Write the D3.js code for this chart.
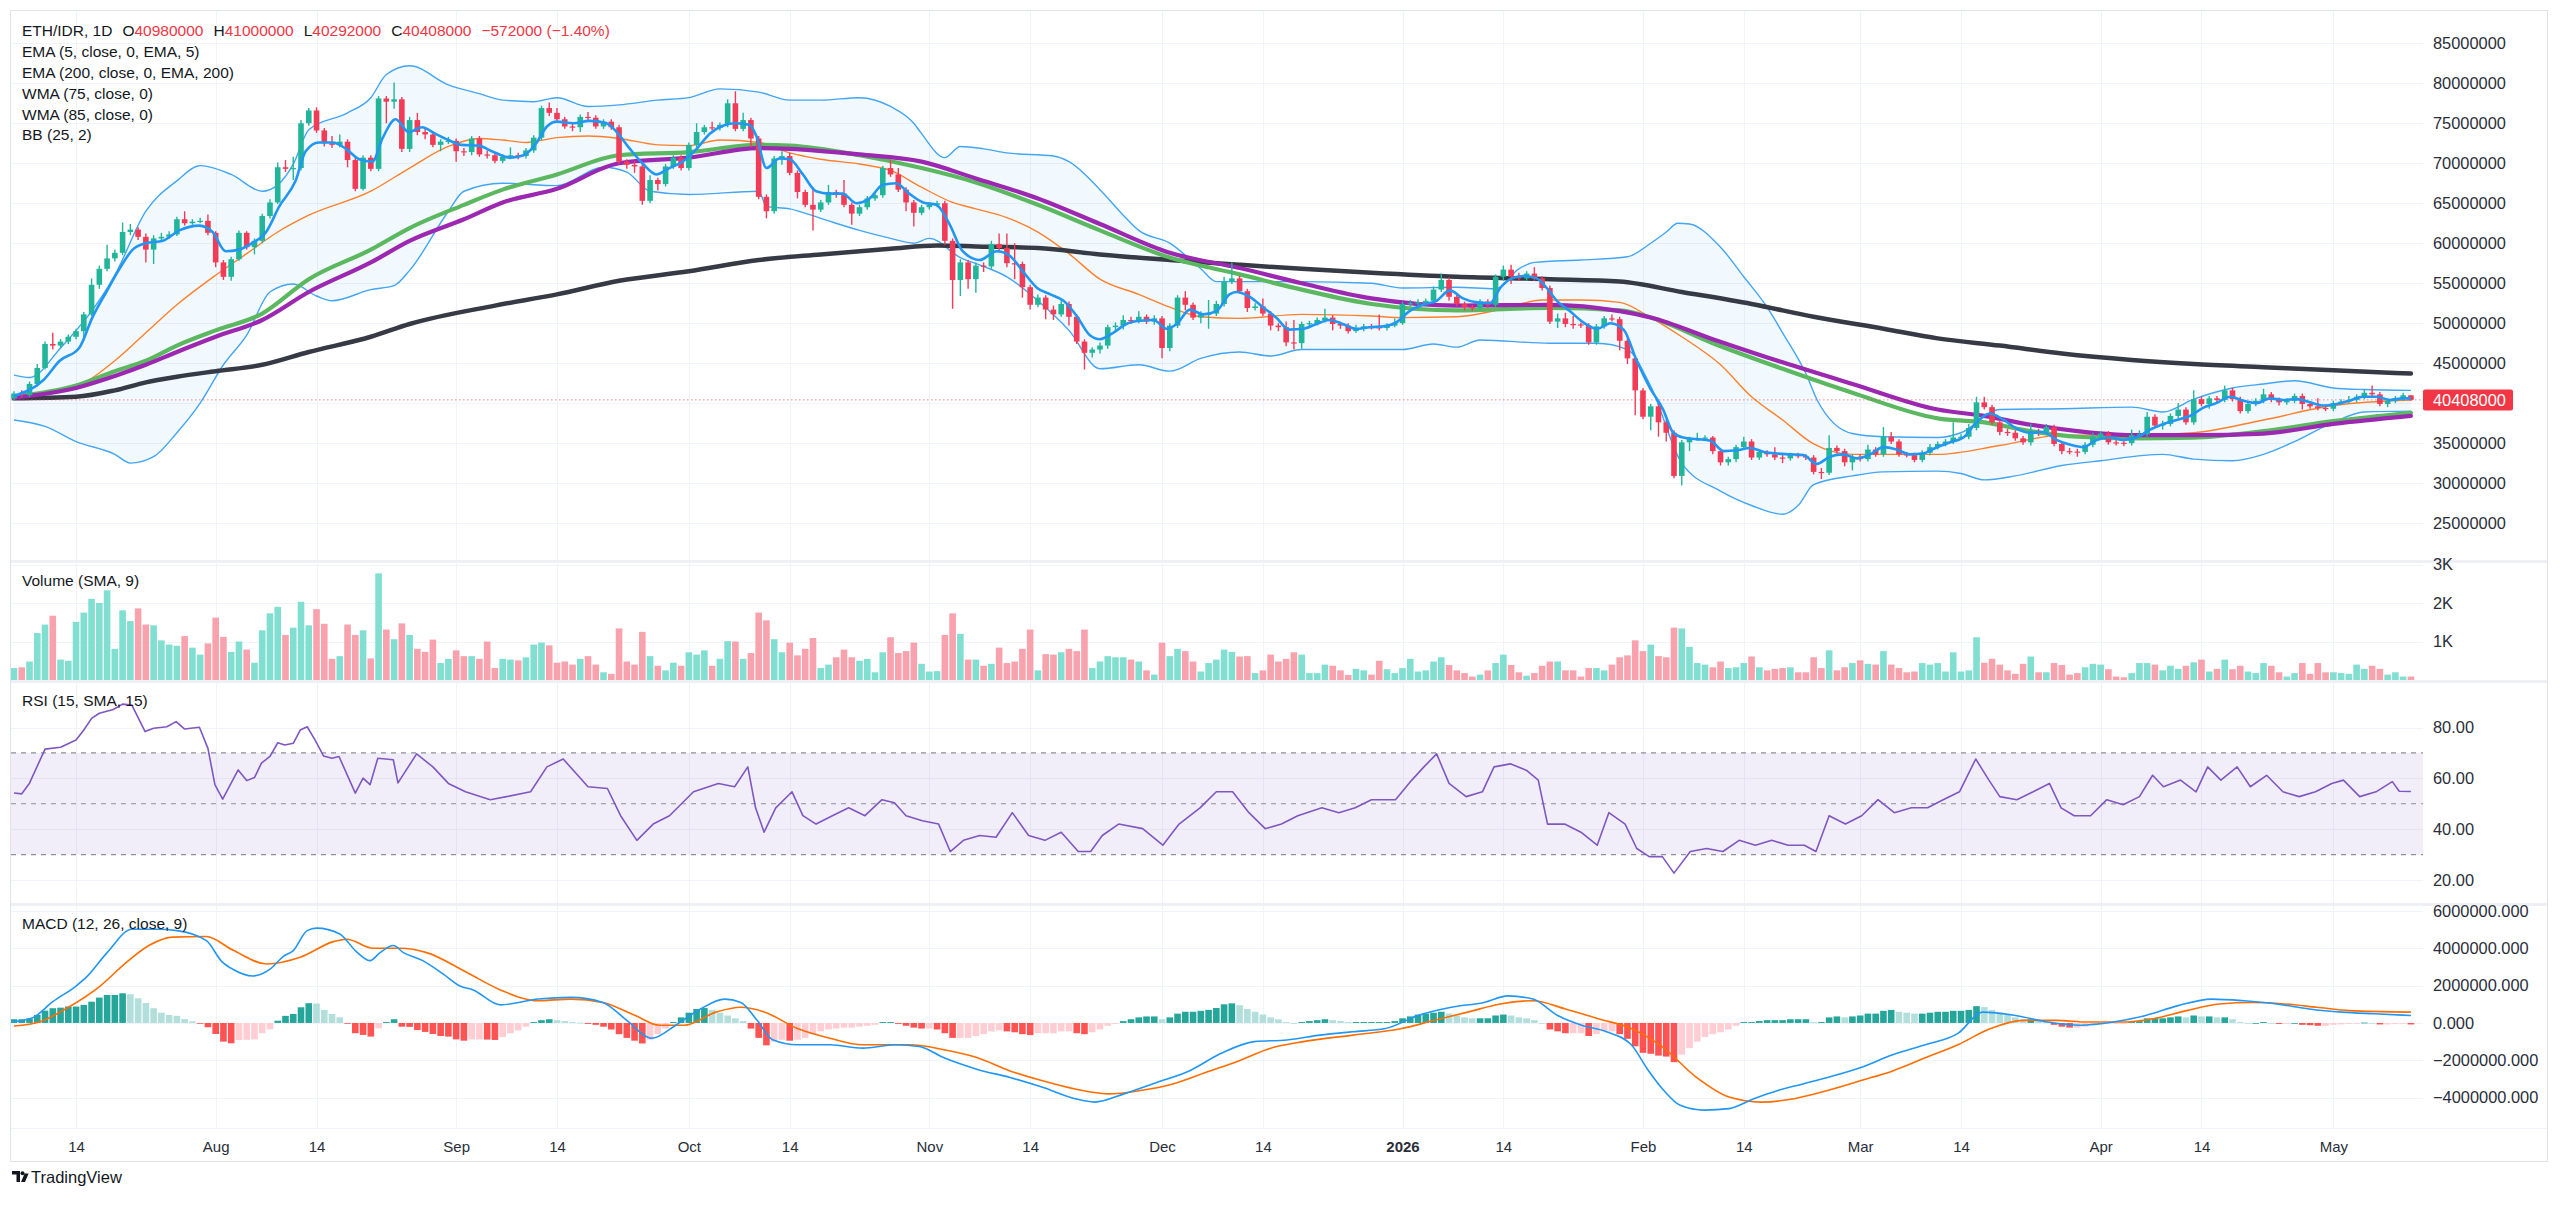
<!DOCTYPE html>
<html><head><meta charset="utf-8">
<script src="https://cdn.jsdelivr.net/npm/d3@7"></script>
<style>
html,body{margin:0;padding:0;background:#fff;}
svg{display:block;}
text{font-family:"Liberation Sans",Arial,sans-serif;}
</style></head><body>
<svg id="c" width="2560" height="1205"></svg>
<script>
// ===== DATA (prices in millions of IDR, volume in thousands, MACD in millions) =====
const startDate = "2025-07-06";
const opens = [40.6,41.2,41.0,42.4,44.4,47.4,47.2,47.7,48.3,49.0,
51.1,54.8,56.8,58.1,58.8,61.4,61.7,60.8,59.2,60.6,
60.8,61.1,63.0,62.5,62.7,62.8,61.3,57.6,55.8,58.0,
61.3,59.5,60.3,63.4,65.1,69.5,69.3,69.4,75.0,76.6,
74.1,72.5,72.3,72.7,70.4,66.8,70.7,69.3,78.1,77.7,
78.0,71.8,75.4,73.9,73.6,72.3,72.7,72.8,71.5,71.4,
73.1,71.1,71.0,70.3,70.8,71.0,70.9,71.6,73.2,76.9,
76.3,75.5,74.6,74.5,75.8,75.7,74.6,75.2,74.5,70.2,
69.8,69.6,65.3,67.9,67.4,69.6,70.7,69.4,72.3,73.9,
74.5,74.4,74.8,77.5,74.3,75.4,73.1,65.8,64.0,70.6,
70.9,68.8,66.4,64.8,64.2,65.1,66.4,66.2,64.8,63.7,
64.5,65.6,66.0,69.4,68.6,66.7,65.1,63.8,64.5,64.8,
65.0,60.3,55.4,57.6,55.5,57.2,57.1,59.9,59.4,57.5,
57.4,54.5,52.3,53.2,51.7,51.1,52.4,50.8,47.7,46.3,
46.7,47.2,49.5,49.7,50.4,50.3,50.8,50.2,50.6,46.9,
49.7,53.2,52.3,50.7,51.1,51.2,52.4,55.2,55.6,54.0,
51.9,52.1,51.2,49.7,49.5,47.6,47.5,49.9,50.0,50.4,
50.7,49.9,49.7,49.0,49.3,49.6,49.5,49.4,49.7,50.0,
52.4,52.5,52.6,52.8,54.2,55.4,53.3,52.4,52.0,51.9,
52.7,52.3,55.8,56.7,55.8,55.6,56.2,55.6,54.4,50.2,
50.6,49.9,49.85,49.7,47.6,49.6,50.6,50.5,47.8,45.6,
41.6,38.3,39.6,37.6,36.3,30.9,35.1,35.5,35.6,35.7,
34.0,32.6,33.0,34.5,35.2,33.2,33.9,33.6,33.2,33.1,
33.5,33.4,33.2,31.4,31.3,34.4,34.0,32.6,33.3,33.0,
34.2,33.6,35.8,35.2,33.6,33.5,32.9,33.8,34.5,34.9,
35.2,35.7,35.8,36.9,40.1,39.5,37.6,36.4,36.3,35.6,
35.1,36.5,36.4,37.0,34.9,34.0,33.95,33.9,34.8,35.8,
36.2,35.1,35.05,35.0,36.0,36.1,38.3,37.2,37.4,38.4,
39.2,37.6,40.5,39.9,40.6,40.4,41.6,40.5,39.0,39.9,
40.3,41.1,40.4,40.1,40.3,40.9,39.9,39.6,39.4,39.3,
40.0,40.2,40.4,40.8,41.3,41.1,39.9,40.3,40.6,40.98];
const closes = [41.2,41.0,42.4,44.4,47.4,47.2,47.7,48.3,49.0,51.1,
54.8,56.8,58.1,58.8,61.4,61.7,60.8,59.2,60.6,60.8,
61.1,63.0,62.5,62.7,62.8,61.3,57.6,55.8,58.0,61.3,
59.5,60.3,63.4,65.1,69.5,69.3,69.4,75.0,76.6,74.1,
72.5,72.3,72.7,70.4,66.8,70.7,69.3,78.1,77.7,78.0,
71.8,75.4,73.9,73.6,72.3,72.7,72.8,71.5,71.4,73.1,
71.1,71.0,70.3,70.8,71.0,70.9,71.6,73.2,76.9,76.3,
75.5,74.6,74.5,75.8,75.7,74.6,75.2,74.5,70.2,69.8,
69.6,65.3,67.9,67.4,69.6,70.7,69.4,72.3,73.9,74.5,
74.4,74.8,77.5,74.3,75.4,73.1,65.8,64.0,70.6,70.9,
68.8,66.4,64.8,64.2,65.1,66.4,66.2,64.8,63.7,64.5,
65.6,66.0,69.4,68.6,66.7,65.1,63.8,64.5,64.8,65.0,
60.3,55.4,57.6,55.5,57.2,57.1,59.9,59.4,57.5,57.4,
54.5,52.3,53.2,51.7,51.1,52.4,50.8,47.7,46.3,46.7,
47.2,49.5,49.7,50.4,50.3,50.8,50.2,50.6,46.9,49.7,
53.2,52.3,50.7,51.1,51.2,52.4,55.2,55.6,54.0,51.9,
52.1,51.2,49.7,49.5,47.6,47.5,49.9,50.0,50.4,50.7,
49.9,49.7,49.0,49.3,49.6,49.5,49.4,49.7,50.0,52.4,
52.5,52.6,52.8,54.2,55.4,53.3,52.4,52.0,51.9,52.7,
52.3,55.8,56.7,55.8,55.6,56.2,55.6,54.4,50.2,50.6,
49.9,49.85,49.7,47.6,49.6,50.6,50.5,47.8,45.6,41.6,
38.3,39.6,37.6,36.3,30.9,35.1,35.5,35.6,35.7,34.0,
32.6,33.0,34.5,35.2,33.2,33.9,33.6,33.2,33.1,33.5,
33.4,33.2,31.4,31.3,34.4,34.0,32.6,33.3,33.0,34.2,
33.6,35.8,35.2,33.6,33.5,32.9,33.8,34.5,34.9,35.2,
35.7,35.8,36.9,40.1,39.5,37.6,36.4,36.3,35.6,35.1,
36.5,36.4,37.0,34.9,34.0,33.95,33.9,34.8,35.8,36.2,
35.1,35.05,35.0,36.0,36.1,38.3,37.2,37.4,38.4,39.2,
37.6,40.5,39.9,40.6,40.4,41.6,40.5,39.0,39.9,40.3,
41.1,40.4,40.1,40.3,40.9,39.9,39.6,39.4,39.3,40.0,
40.2,40.4,40.8,41.3,41.1,39.9,40.3,40.6,40.98,40.408];
const highs = [41.5,41.6,42.7,44.9,47.7,48.8,48.0,48.6,49.3,51.4,
55.6,57.2,59.8,59.2,62.6,62.4,62.0,61.2,61.0,61.3,
61.5,63.3,64.0,63.0,63.2,63.6,61.5,57.9,58.3,61.6,
61.5,60.6,63.7,65.5,70.1,70.4,70.8,75.4,76.9,77.0,
74.4,73.4,73.6,73.0,70.7,71.0,71.0,78.4,78.4,80.1,
78.3,75.8,76.3,74.3,74.0,73.0,73.3,73.1,71.9,73.4,
73.4,71.6,71.3,71.1,72.0,71.3,71.9,73.5,77.2,77.6,
76.9,75.8,74.9,76.1,76.4,76.0,75.5,75.5,74.8,70.5,
70.3,69.9,68.5,68.2,69.9,71.0,71.0,72.6,75.0,74.8,
75.2,75.1,78.0,79.0,76.3,75.7,73.4,66.1,70.9,71.5,
71.3,69.1,66.7,67.0,65.4,67.3,66.7,67.9,65.1,64.8,
65.9,66.4,69.7,70.4,69.4,67.0,65.4,64.8,65.1,65.3,
65.3,60.6,58.0,57.9,57.6,57.6,60.3,61.2,61.2,60.0,
57.7,54.8,53.6,53.5,52.2,52.9,52.7,51.1,48.0,47.0,
47.6,49.8,50.1,51.0,50.8,51.5,51.1,51.0,50.9,50.0,
53.5,54.0,52.6,51.5,52.9,52.8,55.8,57.6,55.9,54.3,
52.5,53.1,51.5,50.0,50.2,50.4,50.2,50.3,50.7,51.8,
51.0,50.2,50.0,49.8,49.9,49.9,51.1,50.0,50.6,52.7,
52.9,53.0,53.1,54.6,56.2,55.7,53.6,52.7,52.3,53.0,
53.0,56.1,57.2,57.3,56.3,56.5,57.0,55.9,54.7,51.2,
51.3,50.9,50.1,50.0,49.9,50.9,51.1,50.8,48.1,45.9,
41.9,39.9,39.9,37.9,36.6,35.4,35.8,36.3,36.0,35.9,
34.3,33.3,34.8,35.8,35.5,34.2,34.1,34.5,33.5,33.8,
33.8,33.6,33.5,31.9,36.0,34.7,34.3,33.6,33.6,34.8,
34.5,37.0,36.4,35.5,33.9,33.8,34.1,34.9,35.2,35.5,
37.6,36.1,37.4,40.8,40.8,39.8,37.9,36.8,36.6,35.9,
37.4,36.8,37.4,37.3,35.2,34.4,34.3,35.1,36.3,36.5,
36.5,35.4,35.4,36.7,36.6,38.9,38.6,37.8,38.7,40.0,
39.5,41.6,40.8,40.9,40.9,42.2,41.9,40.8,40.2,40.6,
41.8,41.4,40.7,40.6,41.2,41.2,40.2,40.6,39.8,40.3,
40.5,40.9,41.1,41.7,42.2,41.4,40.6,40.9,41.3,41.0];
const lows = [40.3,40.7,40.8,42.1,44.2,46.7,46.9,47.4,48.0,47.8,
50.9,54.3,56.5,57.7,58.5,61.0,60.4,57.6,57.4,60.2,
60.6,60.9,62.2,62.3,62.5,61.0,57.0,55.4,55.3,57.8,
59.2,58.6,60.0,63.1,64.9,68.9,67.9,69.1,74.7,73.8,
72.1,71.9,72.0,69.5,66.5,66.6,69.0,69.0,75.0,76.8,
71.4,71.4,73.5,73.0,72.0,71.5,72.4,70.2,70.9,71.0,
70.8,70.6,70.0,70.0,70.5,70.5,70.6,71.3,72.9,75.9,
75.2,74.3,74.0,73.9,75.2,74.3,74.3,74.2,69.9,69.3,
68.8,64.8,65.0,66.6,67.1,69.3,69.1,69.1,72.0,73.6,
74.1,74.1,74.5,74.0,74.0,72.0,65.5,63.1,63.7,69.8,
68.5,65.6,64.5,61.6,63.9,64.8,65.7,64.5,62.3,63.4,
64.2,65.3,65.7,68.3,66.4,64.0,62.1,63.5,64.2,64.5,
59.8,51.8,53.4,54.3,53.8,56.4,56.8,59.0,57.0,55.5,
53.2,51.7,52.0,50.5,50.4,50.8,49.7,47.4,44.2,45.7,
46.2,46.8,49.0,49.2,49.9,50.0,49.9,49.8,45.6,46.5,
49.4,51.6,50.4,50.0,49.3,50.9,52.1,54.9,53.7,51.4,
51.6,50.9,49.1,49.0,47.1,46.7,46.8,49.6,49.7,50.1,
49.1,49.3,48.7,48.8,49.0,49.2,49.1,49.1,49.5,49.8,
52.1,52.1,52.2,52.5,53.9,52.8,52.1,51.6,51.5,51.6,
51.9,52.0,55.3,54.9,55.3,55.3,55.3,54.1,49.9,49.4,
49.5,49.3,49.4,47.3,47.3,49.3,50.2,46.6,44.9,38.5,
38.0,36.6,35.8,35.2,30.6,29.7,34.0,35.3,35.3,33.6,
32.2,32.2,32.6,34.2,32.9,32.9,33.3,32.9,32.5,32.8,
33.1,32.9,31.1,30.5,31.0,33.7,32.1,31.6,32.7,32.7,
33.3,33.3,34.9,33.3,33.2,32.6,32.6,33.5,34.2,34.6,
34.9,35.4,35.5,36.6,39.2,37.3,36.0,35.9,35.3,34.8,
34.7,35.9,36.1,34.6,33.6,33.6,33.3,33.6,34.5,35.5,
34.8,34.7,34.6,34.7,35.7,35.8,36.9,36.7,37.1,38.1,
37.3,37.3,39.6,39.3,40.1,40.1,40.2,38.7,38.7,39.6,
40.0,40.1,39.7,39.8,40.0,39.2,39.3,39.1,39.0,39.0,
39.8,40.0,40.1,40.5,40.8,39.6,39.5,40.0,40.3,40.292];
const volumes = [0.31,0.33,0.48,1.22,1.44,1.67,0.53,0.5,1.51,1.75,
2.11,2.0,2.33,0.81,1.81,1.53,1.86,1.44,1.42,1.03,
0.92,0.89,1.14,0.84,0.66,0.95,1.62,1.12,0.73,1.0,
0.79,0.45,1.29,1.73,1.9,1.17,1.36,2.03,1.42,1.84,
1.46,0.55,0.62,1.44,1.17,1.29,0.56,2.77,1.31,1.06,
1.47,1.17,0.81,0.73,1.05,0.44,0.55,0.77,0.62,0.62,
0.55,1.0,0.31,0.55,0.53,0.51,0.59,0.92,0.97,0.9,
0.45,0.48,0.4,0.55,0.62,0.4,0.2,0.16,1.34,0.48,
0.4,1.25,0.62,0.37,0.25,0.45,0.37,0.72,0.66,0.77,
0.37,0.55,1.01,1.0,0.55,0.7,1.75,1.55,1.06,0.72,
0.97,0.64,0.81,1.09,0.31,0.4,0.59,0.79,0.59,0.5,
0.55,0.2,0.72,1.11,0.7,0.75,0.97,0.42,0.22,0.23,
1.17,1.73,1.2,0.53,0.53,0.37,0.42,0.84,0.44,0.48,
0.81,1.31,0.25,0.67,0.66,0.72,0.81,0.75,1.31,0.31,
0.48,0.62,0.59,0.59,0.53,0.48,0.25,0.14,0.97,0.62,
0.81,0.75,0.48,0.22,0.44,0.53,0.79,0.73,0.61,0.62,
0.18,0.25,0.66,0.48,0.55,0.72,0.66,0.18,0.18,0.4,
0.37,0.25,0.13,0.29,0.25,0.14,0.5,0.28,0.18,0.31,
0.55,0.22,0.25,0.48,0.59,0.39,0.25,0.18,0.09,0.14,
0.25,0.44,0.66,0.39,0.2,0.11,0.18,0.37,0.48,0.48,
0.25,0.25,0.09,0.31,0.31,0.25,0.4,0.59,0.64,1.03,
0.75,0.92,0.62,0.59,1.36,1.34,0.86,0.44,0.4,0.33,
0.48,0.31,0.33,0.44,0.61,0.33,0.25,0.29,0.31,0.33,
0.2,0.2,0.59,0.31,0.77,0.25,0.33,0.44,0.51,0.42,
0.4,0.75,0.4,0.31,0.2,0.22,0.44,0.4,0.44,0.22,
0.72,0.22,0.25,1.11,0.45,0.55,0.4,0.25,0.16,0.42,
0.61,0.2,0.2,0.44,0.39,0.14,0.18,0.33,0.42,0.4,
0.28,0.09,0.07,0.18,0.44,0.44,0.4,0.25,0.37,0.29,
0.37,0.46,0.53,0.22,0.29,0.53,0.28,0.37,0.22,0.18,
0.44,0.37,0.2,0.09,0.18,0.44,0.16,0.44,0.2,0.2,
0.18,0.16,0.4,0.29,0.37,0.29,0.14,0.2,0.09,0.09];

// indicator lines: [bar index, value]
const ema5 = [[0,40.9],[3.8,42.9],[5.9,45.3],[8.4,46.9],[10.1,50.7],[11.9,53.9],[13.6,56.8],[15.3,59.2],[17,60.0],[19.2,60.3],[21.3,61.6],[23.9,62.2],[25.6,61.4],[27.3,59.0],[29,59.2],[30.7,60.0],[32.5,61.4],[34.2,64.6],[36.3,67.8],[37.6,71.5],[39.3,72.6],[41.1,72.6],[42.8,71.8],[44.5,70.5],[46.2,70.2],[47.5,73.1],[49.2,75.5],[50.9,73.9],[52.6,74.5],[54.3,73.7],[56,72.9],[57.7,72.3],[59.9,72.2],[61.6,71.5],[64,70.7],[65.7,71.0],[67.4,72.6],[68.7,74.6],[70,75.2],[72.1,75.0],[74.2,75.3],[76.4,75.0],[77.7,73.9],[79.4,71.8],[81.1,69.9],[82.8,68.6],[84.5,69.4],[86.2,70.2],[88,71.8],[89.7,73.7],[91.4,74.7],[93.1,75.0],[94.8,74.8],[95.7,73.4],[97,69.4],[98.7,70.6],[100,70.5],[101.7,68.6],[103.4,66.5],[105.1,66.2],[106.8,66.2],[108.6,65.0],[110.3,65.6],[112,67.3],[113.7,67.5],[115.4,66.2],[117.2,65.1],[118.9,64.8],[120.6,62.4],[122.3,59.0],[124.5,57.9],[126.7,59.0],[128.4,58.4],[130.2,56.3],[131.9,54.4],[133.6,53.6],[135.3,52.8],[137,50.9],[138.7,48.5],[140,48.0],[141.7,48.8],[143.4,49.9],[145.2,50.3],[146.9,50.4],[148.6,49.3],[149.9,49.9],[151.6,51.7],[153.3,51.1],[155,51.5],[156.7,53.6],[157.6,53.9],[159.3,53.3],[161,52.0],[162.7,50.7],[164.4,49.2],[166.2,49.3],[167.9,49.9],[169.6,50.4],[171.3,49.9],[173,49.3],[174.8,49.5],[176.5,49.6],[178.2,50.1],[179.9,51.5],[181.6,52.3],[183.4,52.8],[185.1,54.1],[186.8,53.1],[188.6,52.6],[190.3,52.5],[191.6,54.4],[192.9,55.5],[194.6,55.9],[196.3,55.6],[197.6,54.4],[198.9,52.8],[200.6,51.5],[202.3,50.1],[204.1,49.3],[205.8,50.0],[207.5,49.2],[209.2,45.3],[210.9,41.9],[212.6,39.2],[213.9,36.3],[215.2,35.7],[216.9,35.5],[218.7,35.3],[220.4,34.0],[222.1,34.1],[223.8,34.4],[225.6,33.9],[227.3,33.7],[229,33.6],[230.7,33.5],[232.4,32.4],[234.1,33.3],[235.8,33.6],[237.6,33.1],[239.3,33.6],[241,34.5],[242.7,34.2],[244.4,33.6],[246.1,33.7],[247.5,34.3],[249.6,35.1],[251.3,35.7],[253,37.6],[254.7,38.7],[256.5,37.9],[258.2,36.8],[259.9,36.3],[261.6,36.4],[263.3,35.4],[265.1,34.8],[266.8,34.5],[268.5,35.4],[270.2,35.7],[271.9,35.4],[273.6,35.7],[275.4,36.7],[277.1,37.4],[278.8,37.9],[280.5,38.4],[282.2,39.4],[283.9,40.0],[285.7,40.8],[287.4,40.3],[289.1,40.0],[290.8,40.6],[292.5,40.4],[294.3,40.5],[296,40.1],[297.7,39.7],[299.4,39.9],[301.1,40.3],[302.8,40.8],[304.6,40.8],[306.3,40.4],[308,40.6],[309,40.6]];
const ema200 = [[0,40.6],[8,40.8],[13,41.6],[17,42.6],[21,43.3],[26,44.0],[32,44.8],[38,46.4],[46,48.3],[51,49.9],[62,52.2],[70,53.6],[78,55.3],[87,56.5],[96,57.9],[104,58.6],[113,59.3],[119,59.7],[124,59.6],[132,59.4],[140,58.6],[149,57.9],[158,57.3],[166,56.8],[175,56.3],[186,55.8],[198,55.5],[207,55.2],[215,53.9],[224,52.4],[232,50.8],[241,49.3],[248,48.1],[256,47.2],[264,46.2],[273,45.4],[281,44.9],[290,44.5],[299,44.1],[309,43.7]];
const wma75 = [[0,40.8],[8,42.2],[13,44.0],[17,45.3],[21,47.2],[26,49.1],[32,51.2],[38,55.5],[46,59.2],[51,61.9],[58,64.8],[63,66.7],[70,68.6],[78,71.0],[87,71.4],[96,72.3],[100,72.2],[109,71.0],[117,69.4],[124,67.6],[132,64.8],[140,61.6],[149,58.2],[158,56.1],[166,54.2],[175,52.4],[186,51.6],[198,51.9],[207,51.6],[211,50.7],[219,47.5],[228,44.3],[237,41.3],[248,38.1],[254,37.6],[260,36.5],[266,35.8],[273,35.6],[281,35.7],[290,36.5],[299,37.75],[309,38.8]];
const wma85 = [[0,40.7],[8,41.9],[13,43.4],[17,44.8],[21,46.4],[26,48.3],[32,50.4],[38,53.9],[46,57.6],[51,60.3],[58,63.0],[63,65.1],[70,66.8],[78,70.0],[87,70.7],[96,71.9],[100,71.8],[109,71.1],[117,70.2],[124,68.1],[132,65.6],[140,62.4],[149,58.8],[158,56.9],[166,55.0],[175,53.1],[186,52.2],[198,52.3],[207,51.5],[211,50.7],[219,48.0],[228,45.1],[237,42.4],[248,39.2],[254,38.4],[260,37.3],[266,36.5],[273,36.0],[281,36.0],[290,36.2],[299,37.4],[309,38.4]];
const bbUpper = [[0,43.5],[2,43.2],[6,46.9],[13,56.0],[17,64.0],[21,67.8],[24,69.7],[28,68.6],[32,66.5],[34,67.3],[36,69.9],[38,74.2],[43,76.3],[46,78.2],[48,81.1],[51,82.2],[56,79.8],[60,78.7],[63,77.9],[67,77.7],[70,78.2],[74,77.1],[78,77.3],[83,77.9],[87,78.2],[91,79.3],[96,78.9],[100,77.9],[104,77.9],[109,78.2],[113,77.1],[116,75.0],[117,73.7],[120,70.7],[122,72.1],[125,71.8],[128,71.3],[134,70.9],[136,70.2],[140,66.7],[143,63.5],[145,61.6],[149,60.0],[153,56.8],[155,55.2],[166,55.2],[175,55.0],[179,54.4],[186,54.5],[191,54.3],[194,56.8],[196,57.6],[202,57.9],[208,58.3],[211,60.0],[213,61.4],[214.5,62.5],[216,62.4],[220,59.5],[223,55.8],[226,52.0],[228,48.8],[231,43.7],[232.5,40.3],[237,36.2],[241,35.8],[248,35.7],[251,36.3],[256,39.2],[264,39.3],[273,39.5],[277,38.9],[281,40.5],[286,41.9],[290,42.4],[294,42.8],[299,41.9],[303,41.7],[309,41.6]];
const bbLower = [[0,37.9],[4,37.1],[8,35.2],[13,33.6],[15,32.5],[18,33.3],[21,36.3],[24,40.0],[27,44.8],[30,48.5],[33,53.9],[36,54.9],[39,53.4],[41,52.8],[46,54.2],[49,54.7],[51,56.6],[56,64.0],[58,66.5],[63,67.5],[70,67.2],[76,69.5],[79,68.9],[82,66.5],[87,66.1],[96,66.5],[97,64.6],[100,64.3],[104,63.1],[109,61.6],[113,60.6],[116,60.0],[118,60.6],[122,58.2],[125,57.1],[128,55.8],[132,52.8],[136,49.1],[140,44.3],[145,44.8],[149,44.0],[153,45.6],[158,46.4],[162,45.9],[166,46.7],[175,46.7],[179,46.7],[183,47.4],[186,47.0],[189,47.9],[198,47.5],[204,47.5],[208,46.7],[211,42.1],[215,32.5],[220,29.0],[224,27.2],[228,26.1],[230,27.2],[232,29.8],[237,30.9],[241,31.4],[248,31.5],[251,31.2],[254,30.4],[258,30.9],[264,32.2],[269,32.8],[277,33.6],[281,33.0],[286,32.8],[290,33.6],[294,35.2],[299,37.6],[303,38.9],[309,39.0]];
const bbBasis = [[0,40.8],[8,42.1],[13,45.3],[17,48.8],[21,52.3],[26,56.0],[30,58.7],[34,61.4],[38,63.5],[46,66.5],[51,69.4],[56,72.1],[60,73.1],[63,72.9],[66,72.6],[70,73.2],[74,73.4],[78,73.1],[83,72.3],[87,72.2],[91,72.9],[96,72.6],[100,71.3],[104,70.5],[109,69.9],[113,69.1],[117,67.0],[121,65.1],[124,64.3],[128,63.2],[132,61.4],[136,58.7],[140,55.5],[145,53.6],[149,52.0],[153,50.8],[158,50.6],[166,51.1],[175,50.9],[179,50.7],[186,50.8],[192,51.8],[197,52.9],[202,52.9],[207,52.6],[211,50.7],[215,48.3],[220,44.8],[224,40.8],[228,37.9],[232,34.9],[237,33.6],[241,33.6],[248,33.6],[256,34.7],[264,36.0],[273,36.0],[281,36.3],[290,37.9],[299,39.7],[309,40.4]];
const rsi = [[0,54.2],[1,53.9],[2,58.1],[4,71.5],[6,72.2],[8,75.1],[9,79.0],[10,83.6],[11,85.6],[12.8,87.1],[14,89.2],[15.2,88.8],[16.9,78.4],[18,79.7],[19.7,80.3],[20.9,82.3],[22,79.4],[23.9,80.1],[25,71.8],[25.9,57.5],[26.9,51.8],[28.9,63.3],[30,59.1],[31,60.3],[31.9,66.0],[33,68.6],[34,74.0],[34.9,73.1],[36,73.8],[36.9,79.0],[37.8,80.3],[38.8,75.1],[39.9,68.8],[41,67.9],[41.9,68.6],[44,54.2],[45,60.1],[45.9,57.5],[46.9,67.9],[48.9,67.3],[49.5,58.2],[51.9,69.6],[54,64.5],[56,58.0],[58.2,54.7],[61.4,51.6],[63.5,52.8],[66.6,54.7],[68.7,64.5],[70.8,67.6],[74,56.7],[76.5,56.0],[78.2,45.3],[80.3,35.6],[82.4,42.0],[84.5,45.3],[87.6,54.7],[90.8,58.0],[92.9,56.7],[94.6,64.5],[95.6,48.4],[96.7,38.8],[98.2,48.4],[100.3,54.7],[101.7,45.3],[103.4,42.0],[105.5,45.3],[107.6,48.4],[109.7,45.3],[111.9,51.6],[113.5,50.4],[115,45.3],[117.1,43.3],[119.2,42.0],[120.7,31.2],[122.4,35.6],[124.5,37.5],[126.6,36.8],[128.7,46.5],[130.8,37.5],[132.9,35.6],[135,38.8],[137.2,31.2],[138.8,31.2],[140.3,37.5],[142.4,42.0],[145.5,40.2],[148.1,33.7],[150.2,42.0],[152.9,48.4],[155,54.7],[157.1,54.7],[159.2,46.5],[161.3,40.2],[163.4,42.0],[165.5,45.3],[168.6,48.4],[170.8,46.5],[172.9,48.4],[175,51.6],[178.1,51.6],[180.2,59.3],[181.7,64.3],[183.4,69.6],[185,58.0],[187.2,52.8],[189.3,54.7],[190.8,64.5],[192.9,65.7],[195,63.1],[196.5,59.3],[197.7,42.0],[199.9,42.0],[202,38.8],[204.1,33.7],[205.6,46.5],[207.7,42.0],[209.2,32.4],[210.8,29.2],[212.5,29.2],[214,22.7],[216.1,31.2],[218.2,32.4],[220.3,31.2],[222.4,35.6],[224.5,33.7],[226.6,35.6],[228.7,33.7],[230.8,33.7],[232.3,31.2],[234,45.3],[236.1,42.0],[238.2,45.3],[240.3,51.6],[242.4,46.5],[244.6,48.4],[246.7,48.4],[248.7,51.6],[250.8,54.7],[252.9,67.6],[254.6,59.3],[256,52.8],[258.2,51.6],[260.3,54.7],[262.4,58.0],[263.9,48.4],[265.6,45.3],[267.7,45.3],[269.8,51.6],[271.9,49.6],[274,52.8],[275.7,61.2],[277.1,56.7],[279.3,59.3],[281.3,54.7],[282.8,64.5],[284.5,59.3],[286.6,64.5],[288.3,56.7],[290.4,61.2],[292.5,54.7],[294.6,52.8],[296.7,54.7],[298.8,58.0],[300.3,59.3],[302.4,52.8],[304.5,54.7],[306.6,58.7],[307.5,54.9],[309,54.8]];
const macdLine = [[0,0.07],[2.5,0.3],[5,1.14],[8,1.98],[9.4,2.48],[12,3.77],[15.2,5.02],[18.4,5.02],[21,4.95],[24.8,4.41],[26.8,3.29],[28.2,2.88],[30.8,2.52],[33,2.88],[34.7,3.56],[36,3.88],[37.8,4.95],[39,5.08],[42,4.77],[44,3.88],[45.9,3.34],[47.2,3.77],[48.9,4.15],[50.2,3.77],[52.7,3.34],[55.3,2.63],[57.5,1.98],[59.2,1.77],[62.7,0.97],[67.6,1.28],[71.8,1.37],[75.9,1.1],[79,0.14],[82.2,-0.82],[85.3,-0.12],[88.5,0.75],[91.6,1.28],[93.7,1.1],[95.8,0.14],[97.8,-0.9],[101,-1.17],[105.2,-1.17],[109.4,-1.35],[113.6,-1.17],[116.7,-1.26],[119.9,-1.87],[124.2,-2.49],[128.4,-2.92],[132.6,-3.45],[136.8,-4.06],[139.3,-4.24],[143.1,-3.8],[147.3,-3.19],[151.5,-2.57],[155.7,-1.61],[159.9,-1.0],[164.1,-0.91],[168.4,-0.65],[172.6,-0.47],[176.8,-0.3],[181,0.4],[185.3,0.84],[189.5,1.1],[192.6,1.45],[195.8,1.28],[199,0.4],[202.1,-0.12],[205.3,-0.47],[208.5,-1.17],[210.6,-2.49],[212.7,-3.62],[214.8,-4.41],[217.9,-4.67],[221.1,-4.59],[224.3,-4.06],[227.4,-3.62],[230.6,-3.27],[233.8,-2.92],[238,-2.4],[242.2,-1.7],[246.4,-1.17],[250.6,-0.56],[253.8,0.58],[258,0.4],[262.2,0.05],[266.4,-0.12],[270.6,0.05],[274.8,0.4],[279,0.93],[283.3,1.28],[287.5,1.19],[291.7,1.02],[295.9,0.75],[300.1,0.58],[304.3,0.49],[309,0.4]];
const macdSignal = [[0,-0.16],[3.4,0.07],[6.8,0.79],[11.1,1.98],[14.6,3.29],[17.5,4.18],[20.5,4.6],[24.8,4.63],[28.2,3.91],[32.6,3.16],[36.9,3.52],[41.2,4.36],[42.9,4.49],[46.3,4.0],[49.8,4.0],[53.2,3.77],[58.4,2.7],[62.7,1.77],[67.6,1.19],[71.8,1.28],[75.9,1.1],[80.1,0.4],[83.2,-0.12],[86.4,-0.12],[90.5,0.58],[93.7,0.84],[96.8,0.58],[101,-0.3],[105.2,-0.82],[109.4,-1.17],[115.6,-1.17],[119.9,-1.44],[124.2,-1.87],[128.4,-2.57],[132.6,-3.1],[136.8,-3.54],[141,-3.8],[145.2,-3.62],[149.4,-3.27],[153.6,-2.66],[157.8,-2.05],[162,-1.35],[166.2,-1.0],[172.6,-0.65],[178.9,-0.3],[183.1,0.14],[187.4,0.58],[191.6,1.02],[195.8,1.19],[200,0.75],[204.2,0.23],[208.5,-0.3],[212.7,-1.35],[216.9,-2.92],[221.1,-3.97],[225.3,-4.24],[229.5,-4.06],[233.8,-3.62],[238,-3.1],[242.2,-2.57],[246.4,-1.87],[250.6,-1.17],[254.8,-0.3],[259,0.14],[263.2,0.14],[267.4,0.05],[271.6,0.05],[275.8,0.23],[280.1,0.66],[284.3,1.02],[288.5,1.1],[292.7,1.02],[296.9,0.84],[301.1,0.66],[309,0.58]];
const macdHist = [0.2,0.2,0.25,0.43,0.66,0.79,0.82,0.88,0.88,0.97,
1.14,1.36,1.5,1.5,1.59,1.54,1.32,1.07,0.79,0.55,
0.43,0.38,0.21,0.09,-0.02,-0.23,-0.59,-1.0,-1.09,-0.91,
-0.9,-0.88,-0.55,-0.34,0.12,0.38,0.48,0.84,1.06,1.04,
0.7,0.48,0.3,-0.04,-0.55,-0.64,-0.73,-0.29,0.05,0.2,
-0.2,-0.21,-0.38,-0.48,-0.59,-0.7,-0.73,-0.88,-0.95,-0.88,
-0.88,-0.89,-0.91,-0.75,-0.55,-0.4,-0.2,0.05,0.15,0.2,
0.15,0.1,0.05,0.02,-0.05,-0.1,-0.2,-0.35,-0.6,-0.8,
-0.95,-1.1,-0.9,-0.6,-0.3,0.05,0.3,0.55,0.75,0.8,
0.7,0.55,0.4,0.25,0.1,-0.3,-0.8,-1.2,-1.0,-0.9,
-0.95,-0.9,-0.8,-0.6,-0.45,-0.35,-0.3,-0.25,-0.25,-0.2,
-0.15,-0.1,0.05,0.05,-0.05,-0.15,-0.25,-0.3,-0.3,-0.35,
-0.55,-0.8,-0.8,-0.8,-0.7,-0.6,-0.45,-0.4,-0.45,-0.5,
-0.6,-0.65,-0.55,-0.55,-0.55,-0.45,-0.45,-0.55,-0.6,-0.5,
-0.35,-0.15,-0.05,0.1,0.2,0.3,0.35,0.35,0.2,0.3,
0.5,0.6,0.6,0.65,0.7,0.8,1.0,1.05,0.95,0.75,
0.6,0.45,0.3,0.2,0.05,0.0,0.05,0.1,0.15,0.2,
0.15,0.1,0.05,0.05,0.05,0.05,0.05,0.05,0.1,0.25,
0.35,0.45,0.5,0.55,0.6,0.5,0.4,0.3,0.25,0.25,
0.25,0.4,0.45,0.4,0.3,0.25,0.15,0.0,-0.35,-0.45,
-0.55,-0.55,-0.55,-0.7,-0.6,-0.45,-0.45,-0.6,-0.85,-1.25,
-1.6,-1.65,-1.75,-1.8,-2.1,-1.7,-1.35,-1.0,-0.75,-0.6,
-0.5,-0.35,-0.15,0.05,0.05,0.1,0.15,0.15,0.15,0.2,
0.2,0.2,0.05,0.05,0.3,0.35,0.3,0.35,0.4,0.5,
0.5,0.65,0.7,0.6,0.55,0.5,0.5,0.55,0.6,0.6,
0.65,0.65,0.7,0.9,0.85,0.7,0.55,0.45,0.3,0.2,
0.2,0.1,0.05,-0.1,-0.2,-0.25,-0.25,-0.2,-0.1,-0.05,
-0.05,-0.05,-0.05,0.05,0.1,0.25,0.25,0.25,0.3,0.35,
0.3,0.4,0.35,0.35,0.3,0.3,0.2,0.05,0.0,0.0,
0.05,0.0,-0.05,-0.05,0.0,-0.1,-0.12,-0.15,-0.15,-0.1,
-0.08,-0.05,-0.03,0.02,0.0,-0.08,-0.08,-0.06,-0.04,-0.08];

const priceTicks = [25,30,35,40,45,50,55,60,65,70,75,80,85];
const volTicks = [1,2,3];
const rsiTicks = [20,40,60,80];
const rsiBands = [70,50,30];
const macdTicks = [-4,-2,0,2,4,6];
const timeTickDates = ["2025-07-14","2025-08-01","2025-08-14","2025-09-01","2025-09-14","2025-10-01","2025-10-14","2025-11-01","2025-11-14","2025-12-01","2025-12-14","2026-01-01","2026-01-14","2026-02-01","2026-02-14","2026-03-01","2026-03-14","2026-04-01","2026-04-14","2026-05-01"];
const timeTickLabels = ["14","Aug","14","Sep","14","Oct","14","Nov","14","Dec","14","2026","14","Feb","14","Mar","14","Apr","14","May"];
const legendMain = {symbol:"ETH/IDR, 1D", o:"40980000", h:"41000000", l:"40292000", c:"40408000", chg:"−572000 (−1.40%)"};
const legendLines = ["EMA (5, close, 0, EMA, 5)","EMA (200, close, 0, EMA, 200)","WMA (75, close, 0)","WMA (85, close, 0)","BB (25, 2)"];
const lastPrice = 40.408;

// ===== LAYOUT =====
const W = 2560, H = 1205;
const L = 11, R = 2423;
const panes = {
  price:{top:11, bottom:561},
  vol:{top:562, bottom:681},
  rsi:{top:682, bottom:904},
  macd:{top:905, bottom:1128}
};
const UP = "#22B59A", DOWN = "#F23B57";
const svg = d3.select("#c");
const parse = d3.utcParse("%Y-%m-%d");
const d0 = parse(startDate);
const n = closes.length;
const dates = d3.utcDay.range(d0, d3.utcDay.offset(d0, n));
const x0 = 14.0, step = 7.757;
const xIdx = d3.scaleLinear().domain([0, n-1]).range([x0, x0 + (n-1)*step]);
const xTime = d3.scaleUtc().domain([dates[0], dates[n-1]]).range(xIdx.range());

const yP = d3.scaleLinear().domain([25,85]).range([523.1, 43.3]);
const yV = d3.scaleLinear().domain([0,3]).range([680, 564.5]);
const yR = d3.scaleLinear().domain([20,80]).range([880, 727.5]);
const yM = d3.scaleLinear().domain([-4,6]).range([1097.6, 911]);

svg.append("rect").attr("x",0).attr("y",0).attr("width",W).attr("height",H).attr("fill","#fff");
svg.append("rect").attr("x",10.5).attr("y",10.5).attr("width",2537).attr("height",1151).attr("fill","none").attr("stroke","#E0E3EB");

const defs = svg.append("defs");
Object.entries(panes).forEach(([k,p])=>{
  defs.append("clipPath").attr("id","clip-"+k).append("rect").attr("x",L).attr("y",p.top).attr("width",R-L).attr("height",p.bottom-p.top);
});

const grid = svg.append("g").attr("stroke","#F0F3FA").attr("stroke-width",1);
const tickDates = timeTickDates.map(parse);
grid.selectAll("line.v").data(tickDates).join("line")
  .attr("x1",d=>Math.round(xTime(d))+0.5).attr("x2",d=>Math.round(xTime(d))+0.5)
  .attr("y1",11).attr("y2",1128);
function hgrid(scale, ticks){
  grid.selectAll(null).data(ticks).join("line")
    .attr("x1",L).attr("x2",R)
    .attr("y1",d=>Math.round(scale(d))+0.5).attr("y2",d=>Math.round(scale(d))+0.5);
}
hgrid(yP, priceTicks); hgrid(yV, volTicks); hgrid(yR, rsiTicks); hgrid(yM, macdTicks);

[561,681,904].forEach(y=>{
  svg.append("rect").attr("x",L).attr("y",y-1).attr("width",2536).attr("height",3).attr("fill","#EEF0F5");
});
svg.append("line").attr("x1",L).attr("x2",2547).attr("y1",1128.5).attr("y2",1128.5).attr("stroke","#F0F3FA");

// ===== PRICE PANE =====
const gp = svg.append("g").attr("clip-path","url(#clip-price)");
const curve = d3.curveMonotoneX;
const lineP = d3.line().x(d=>xIdx(d[0])).y(d=>yP(d[1])).curve(curve);
const upperPath = lineP(bbUpper);
const lowerRev = d3.line().x(d=>xIdx(d[0])).y(d=>yP(d[1])).curve(d3.curveCatmullRom)(bbLower.slice().reverse());
gp.append("path").attr("d", upperPath + "L" + lowerRev.slice(1) + "Z").attr("fill","rgba(33,150,243,0.06)").attr("stroke","none");
gp.append("path").attr("d",upperPath).attr("fill","none").attr("stroke","#42A5F5").attr("stroke-width",1.4);
gp.append("path").attr("d",lineP(bbLower)).attr("fill","none").attr("stroke","#42A5F5").attr("stroke-width",1.4);
gp.append("path").attr("d",lineP(bbBasis)).attr("fill","none").attr("stroke","#FF7F2A").attr("stroke-width",1.4);
gp.append("path").attr("d",lineP(ema200)).attr("fill","none").attr("stroke","#363A45").attr("stroke-width",4.5).attr("stroke-linecap","round");
gp.append("path").attr("d",lineP(wma75)).attr("fill","none").attr("stroke","#5CB860").attr("stroke-width",4.2).attr("stroke-linecap","round");
gp.append("path").attr("d",lineP(wma85)).attr("fill","none").attr("stroke","#9C27B0").attr("stroke-width",4.2).attr("stroke-linecap","round");
gp.append("line").attr("x1",L).attr("x2",R).attr("y1",yP(lastPrice)).attr("y2",yP(lastPrice))
  .attr("stroke","#F23645").attr("stroke-opacity",0.6).attr("stroke-dasharray","1.5,2.5").attr("stroke-width",1);
const idx = d3.range(n);
const cg = gp.append("g");
cg.selectAll("line.w").data(idx).join("line")
  .attr("x1",i=>xIdx(i)).attr("x2",i=>xIdx(i))
  .attr("y1",i=>yP(highs[i])).attr("y2",i=>yP(lows[i]))
  .attr("stroke",i=>closes[i]>=opens[i]?UP:DOWN).attr("stroke-width",1.4);
cg.selectAll("rect.b").data(idx).join("rect")
  .attr("x",i=>xIdx(i)-2.8).attr("width",5.6)
  .attr("y",i=>yP(Math.max(opens[i],closes[i])))
  .attr("height",i=>Math.max(1.2, Math.abs(yP(opens[i])-yP(closes[i]))))
  .attr("fill",i=>closes[i]>=opens[i]?UP:DOWN);
gp.append("path").attr("d",lineP(ema5)).attr("fill","none").attr("stroke","#2196F3").attr("stroke-width",2.6).attr("stroke-linejoin","round");

// ===== VOLUME =====
const gv = svg.append("g").attr("clip-path","url(#clip-vol)");
gv.selectAll("rect").data(idx).join("rect")
  .attr("x",i=>xIdx(i)-3.3).attr("width",6.6)
  .attr("y",i=>yV(volumes[i])).attr("height",i=>yV(0)-yV(volumes[i]))
  .attr("fill",i=>closes[i]>=opens[i]?"#80DFD1":"#F8A2AD");

// ===== RSI =====
const gr = svg.append("g").attr("clip-path","url(#clip-rsi)");
gr.append("rect").attr("x",L).attr("width",R-L).attr("y",yR(70)).attr("height",yR(30)-yR(70)).attr("fill","rgba(126,87,194,0.1)");
gr.selectAll("line.band").data(rsiBands).join("line")
  .attr("x1",L).attr("x2",R).attr("y1",d=>yR(d)).attr("y2",d=>yR(d))
  .attr("stroke","#8E9099").attr("stroke-dasharray","5,5").attr("stroke-width",1.2);
gr.append("path").attr("d",d3.line().x(d=>xIdx(d[0])).y(d=>yR(d[1]))(rsi)).attr("fill","none").attr("stroke","#7E57C2").attr("stroke-width",1.6).attr("stroke-linejoin","round");

// ===== MACD =====
const gm = svg.append("g").attr("clip-path","url(#clip-macd)");
gm.selectAll("rect").data(idx).join("rect")
  .attr("x",i=>xIdx(i)-3.3).attr("width",6.6)
  .attr("y",i=>Math.min(yM(0),yM(macdHist[i])))
  .attr("height",i=>Math.max(0.8,Math.abs(yM(macdHist[i])-yM(0))))
  .attr("fill",i=>{
    const v = macdHist[i], p = i>0?macdHist[i-1]:v;
    if (v>=0) return v>=p ? "#26A69A" : "#B2DFDB";
    return v<p ? "#FF5252" : "#FFCDD2";
  });
const lineM = d3.line().x(d=>xIdx(d[0])).y(d=>yM(d[1])).curve(curve);
gm.append("path").attr("d",lineM(macdSignal)).attr("fill","none").attr("stroke","#FF6D00").attr("stroke-width",1.6);
gm.append("path").attr("d",lineM(macdLine)).attr("fill","none").attr("stroke","#2196F3").attr("stroke-width",1.6);

// ===== AXES =====
const axisFont = "16.4px";
function styleAxis(g){
  g.select(".domain").remove();
  g.selectAll("line").remove();
  g.selectAll("text").attr("fill","#2A2E39").style("font-size",axisFont).style("font-family","'Liberation Sans',Arial,sans-serif");
}
svg.append("g").attr("transform",`translate(${R},0)`)
  .call(d3.axisRight(yP).tickValues(priceTicks).tickSize(0).tickPadding(10).tickFormat(d=>d3.format("d")(d*1e6))).call(styleAxis);
svg.append("g").attr("transform",`translate(${R},0)`)
  .call(d3.axisRight(yV).tickValues(volTicks).tickSize(0).tickPadding(10).tickFormat(d=>d+"K")).call(styleAxis);
svg.append("g").attr("transform",`translate(${R},0)`)
  .call(d3.axisRight(yR).tickValues(rsiTicks).tickSize(0).tickPadding(10).tickFormat(d=>d.toFixed(2))).call(styleAxis);
svg.append("g").attr("transform",`translate(${R},0)`)
  .call(d3.axisRight(yM).tickValues(macdTicks).tickSize(0).tickPadding(10).tickFormat(d=>(d<0?"−":"")+(Math.abs(d)*1e6).toFixed(3))).call(styleAxis);
const tx = svg.append("g").attr("transform",`translate(0,1128)`)
  .call(d3.axisBottom(xTime).tickValues(tickDates).tickSize(0).tickPadding(13).tickFormat((d,i)=>timeTickLabels[i]));
styleAxis(tx);
tx.selectAll("text").style("font-size","15px").filter((d,i)=>timeTickLabels[i]==="2026").style("font-weight","bold");

const lp = svg.append("g");
lp.append("rect").attr("x",R).attr("y",yP(lastPrice)-10.5).attr("width",90).attr("height",21).attr("rx",2).attr("fill","#F23645");
lp.append("text").attr("x",R+10).attr("y",yP(lastPrice)).attr("dy","0.36em").attr("fill","#fff").style("font-size",axisFont).text(d3.format("d")(lastPrice*1e6));

// ===== LEGENDS =====
const lg = svg.append("g").style("font-size","15.5px").attr("fill","#131722");
const t1 = lg.append("text").attr("x",22).attr("y",30.5).attr("dy","0.36em");
t1.append("tspan").text(legendMain.symbol);
t1.append("tspan").attr("dx",10).text("O");
t1.append("tspan").attr("fill","#F23645").text(legendMain.o);
t1.append("tspan").attr("dx",10).text("H");
t1.append("tspan").attr("fill","#F23645").text(legendMain.h);
t1.append("tspan").attr("dx",10).text("L");
t1.append("tspan").attr("fill","#F23645").text(legendMain.l);
t1.append("tspan").attr("dx",10).text("C");
t1.append("tspan").attr("fill","#F23645").text(legendMain.c);
t1.append("tspan").attr("dx",10).attr("fill","#F23645").text(legendMain.chg);
lg.selectAll("text.ind").data(legendLines).join("text").attr("class","ind")
  .attr("x",22).attr("y",(d,i)=>51.6+i*20.8).attr("dy","0.36em").text(d=>d);
lg.append("text").attr("x",22).attr("y",580).attr("dy","0.36em").text("Volume (SMA, 9)");
lg.append("text").attr("x",22).attr("y",700.5).attr("dy","0.36em").text("RSI (15, SMA, 15)");
lg.append("text").attr("x",22).attr("y",923).attr("dy","0.36em").text("MACD (12, 26, close, 9)");

const tv = svg.append("g").attr("fill","#131722");
tv.append("path").attr("d","M12,1171h8v11h-3.5v-7.5h-4.5z");
tv.append("circle").attr("cx",22.5).attr("cy",1173.2).attr("r",2);
tv.append("path").attr("d","M21,1182l3.6,-8.5h4l-3.6,8.5z");
tv.append("text").attr("x",31).attr("y",1177).attr("dy","0.36em").style("font-size","16.5px").text("TradingView");
</script>
</body></html>
